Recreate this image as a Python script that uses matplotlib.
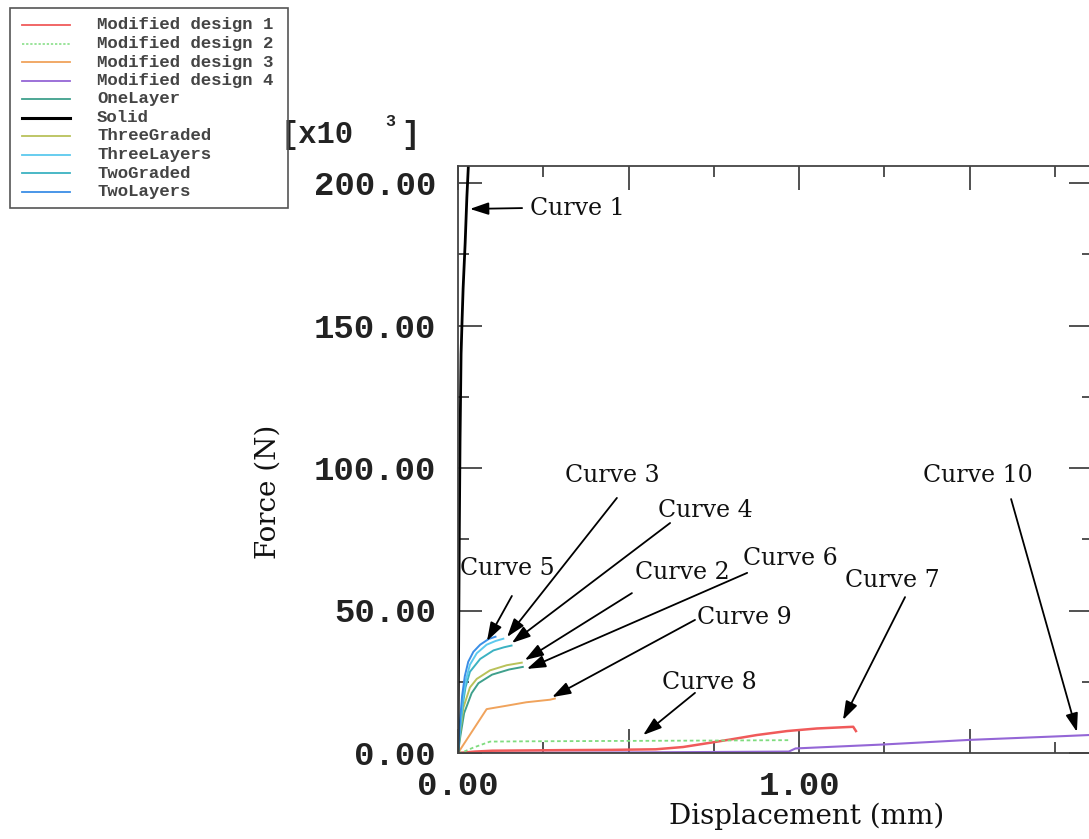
import matplotlib
matplotlib.use("Agg")
import matplotlib.pyplot as plt
from matplotlib.ticker import MultipleLocator, FuncFormatter
from matplotlib.patches import Rectangle
from matplotlib.lines import Line2D

# ---------------- data (displacement mm, force kN) ----------------
solid_x = [0, 0.002, 0.004, 0.006, 0.009, 0.012, 0.015, 0.021, 0.026, 0.032]
solid_y = [0, 40, 80, 110, 140, 152, 163, 179, 195, 210]

twolayers_x = [0, 0.005, 0.012, 0.020, 0.030, 0.045, 0.065, 0.090, 0.110]
twolayers_y = [0, 10, 20, 27, 32, 35.5, 38, 40, 40.8]

threelayers_x = [0, 0.006, 0.014, 0.022, 0.035, 0.055, 0.084, 0.110, 0.133]
threelayers_y = [0, 9, 19, 25, 31, 35, 38, 39.3, 40.1]

twograded_x = [0, 0.006, 0.014, 0.022, 0.035, 0.065, 0.104, 0.135, 0.157]
twograded_y = [0, 8, 17, 23, 28.5, 33, 36, 37.1, 37.7]

threegraded_x = [0, 0.006, 0.016, 0.035, 0.055, 0.094, 0.143, 0.187]
threegraded_y = [0, 7, 16, 23, 26, 29, 30.8, 31.7]

onelayer_x = [0, 0.007, 0.018, 0.040, 0.060, 0.100, 0.150, 0.190]
onelayer_y = [0, 6, 14, 21, 24.5, 27.5, 29.3, 30.2]

mod3_x = [0, 0.084, 0.143, 0.200, 0.270, 0.284]
mod3_y = [0, 15.4, 16.6, 17.8, 18.7, 19.1]

mod2_x = [0, 0.020, 0.045, 0.094, 0.200, 0.400, 0.600, 0.800, 0.970]
mod2_y = [0, 0.6, 1.9, 4.0, 4.1, 4.2, 4.3, 4.4, 4.5]

mod1_x = [0, 0.05, 0.10, 0.30, 0.45, 0.58, 0.66, 0.74, 0.807, 0.876, 0.965, 1.052, 1.159, 1.167]
mod1_y = [0, 0.5, 0.8, 1.0, 1.1, 1.3, 2.1, 3.6, 4.9, 6.3, 7.7, 8.6, 9.2, 7.7]

mod4_x = [0, 0.20, 0.50, 0.97, 0.99, 1.25, 1.50, 1.75, 1.87]
mod4_y = [0, 0.1, 0.2, 0.5, 1.6, 3.0, 4.6, 5.8, 6.4]

legend_labels = ["Modified design 1", "Modified design 2", "Modified design 3",
                 "Modified design 4", "OneLayer", "Solid", "ThreeGraded",
                 "ThreeLayers", "TwoGraded", "TwoLayers"]

# annotation labels: (text pos), (arrow start), (arrow tip) in data units
ann_labels = ["Curve 1", "Curve 3", "Curve 4", "Curve 5", "Curve 2",
              "Curve 6", "Curve 9", "Curve 8", "Curve 7", "Curve 10"]
ann_text = [(0.349, 191.2), (0.452, 97.2), (0.725, 85.0), (0.144, 64.6), (0.657, 63.5),
            (0.974, 68.4), (0.839, 47.4), (0.736, 24.6), (1.273, 60.7), (1.525, 97.2)]
ann_start = [(0.188, 191.2), (0.466, 89.5), (0.622, 80.7), (0.158, 55.1), (0.510, 56.1),
             (0.848, 63.2), (0.695, 46.7), (0.695, 21.1), (1.311, 54.7), (1.622, 89.1)]
ann_tip = [(0.035, 190.9), (0.144, 40.7), (0.158, 38.6), (0.085, 39.3), (0.196, 32.6),
           (0.202, 29.5), (0.276, 19.6), (0.543, 6.3), (1.129, 11.6), (1.815, 7.4)]

# ---------------- styles ----------------
C_M1 = "#f05a5a"
C_M2 = "#7fdc7f"
C_M3 = "#f0a35c"
C_M4 = "#9466d6"
C_ONE = "#3fa08c"
C_SOLID = "#000000"
C_3G = "#b9c25a"
C_3L = "#5cc9ee"
C_2G = "#3cb2c2"
C_2L = "#3a8ee6"

W, H = 1089, 839
fig = plt.figure(figsize=(W / 100, H / 100), dpi=100)
fig.patch.set_facecolor("white")

ax_left, ax_right, ax_top, ax_bottom = 458, 1093, 166, 753
ax = fig.add_axes([ax_left / W, 1 - ax_bottom / H, (ax_right - ax_left) / W,
                   (ax_bottom - ax_top) / H])
ax.set_xlim(0, (ax_right - ax_left) / 341.0)
ax.set_ylim(0, (ax_bottom - ax_top) / 2.85)

series = [
    (mod4_x, mod4_y, C_M4, "-", 1.5),
    (mod1_x, mod1_y, C_M1, "-", 1.8),
    (mod2_x, mod2_y, C_M2, (0, (2, 1.5)), 1.3),
    (mod3_x, mod3_y, C_M3, "-", 1.4),
    (onelayer_x, onelayer_y, C_ONE, "-", 1.4),
    (threegraded_x, threegraded_y, C_3G, "-", 1.4),
    (twograded_x, twograded_y, C_2G, "-", 1.4),
    (threelayers_x, threelayers_y, C_3L, "-", 1.4),
    (twolayers_x, twolayers_y, C_2L, "-", 1.4),
    (solid_x, solid_y, C_SOLID, "-", 2.0),
]
for xs, ys, c, ls, lw in series:
    ax.plot(xs, ys, color=c, linestyle=ls, linewidth=lw, clip_on=True)

# axes styling
for sp in ax.spines.values():
    sp.set_color("#444444")
    sp.set_linewidth(1.3)

ax.xaxis.set_major_locator(MultipleLocator(0.5))
ax.xaxis.set_minor_locator(MultipleLocator(0.25))
ax.yaxis.set_major_locator(MultipleLocator(50))
ax.yaxis.set_minor_locator(MultipleLocator(25))
ax.xaxis.set_major_formatter(FuncFormatter(
    lambda v, p: f"{v:.2f}" if abs(v - round(v)) < 1e-9 else ""))
ax.yaxis.set_major_formatter(FuncFormatter(lambda v, p: f"{v:.2f}"))

tick_font = dict(family="Liberation Mono", weight="bold", size=24.5)
ax.tick_params(which="major", direction="in", length=17, width=1.2, color="#333333",
               top=True, right=True)
ax.tick_params(which="minor", direction="in", length=8, width=1.2, color="#333333",
               top=True, right=True)
ax.tick_params(axis="y", which="major", pad=16)
ax.tick_params(axis="x", which="major", pad=13)
for lab in ax.get_xticklabels() + ax.get_yticklabels():
    lab.set_fontproperties(matplotlib.font_manager.FontProperties(**tick_font))
    lab.set_color("#222222")

# axis titles
serif = "DejaVu Serif"
fig.text(807 / W, 1 - 816 / H, "Displacement (mm)", ha="center", va="center",
         family=serif, fontsize=20, color="#111111")
fig.text(268 / W, 1 - 492 / H, "Force (N)", ha="center", va="center", rotation=90,
         family=serif, fontsize=20, color="#111111")

# multiplier
fig.text(280 / W, 1 - 135 / H, "[x10", ha="left", va="center",
         family="Liberation Mono", weight="bold", fontsize=22, color="#222222")
fig.text(390 / W, 1 - 122 / H, "3", ha="center", va="center",
         family="Liberation Mono", weight="bold", fontsize=12, color="#222222")
fig.text(410 / W, 1 - 135 / H, "]", ha="center", va="center",
         family="Liberation Mono", weight="bold", fontsize=22, color="#222222")

# annotations
for lab, tp, sp_, tip in zip(ann_labels, ann_text, ann_start, ann_tip):
    ax.text(tp[0], tp[1], lab, ha="center", va="center", family=serif,
            fontsize=17, color="#111111", clip_on=False)
    ax.annotate("", xy=tip, xytext=sp_, annotation_clip=False,
                arrowprops=dict(arrowstyle="-|>,head_length=0.75,head_width=0.25",
                                mutation_scale=15, color="black", lw=1.3,
                                shrinkA=0, shrinkB=0))

# legend (drawn in figure pixel space)
lax = fig.add_axes([0, 0, 1, 1], zorder=5)
lax.set_xlim(0, W)
lax.set_ylim(H, 0)
lax.axis("off")
lax.add_patch(Rectangle((10, 8), 278, 200, fill=False, edgecolor="#555555", lw=1.2))
leg_colors = [C_M1, C_M2, C_M3, C_M4, C_ONE, C_SOLID, C_3G, C_3L, C_2G, C_2L]
leg_styles = ["-", (0, (1.5, 1.2)), "-", "-", "-", "-", "-", "-", "-", "-"]
leg_widths = [1.3, 1.1, 1.3, 1.3, 1.3, 2.2, 1.3, 1.3, 1.3, 1.3]
row0, drow = 25, 18.5
for i, (lab, c, ls, lw) in enumerate(zip(legend_labels, leg_colors, leg_styles, leg_widths)):
    yy = row0 + i * drow
    lax.add_line(Line2D([22, 70], [yy, yy], color=c, linestyle=ls, linewidth=lw))
    lax.text(97, yy, lab, ha="left", va="center", family="Liberation Mono",
             weight="bold", fontsize=12.5, color="#444444")

fig.savefig("out.png", dpi=100, facecolor="white")
